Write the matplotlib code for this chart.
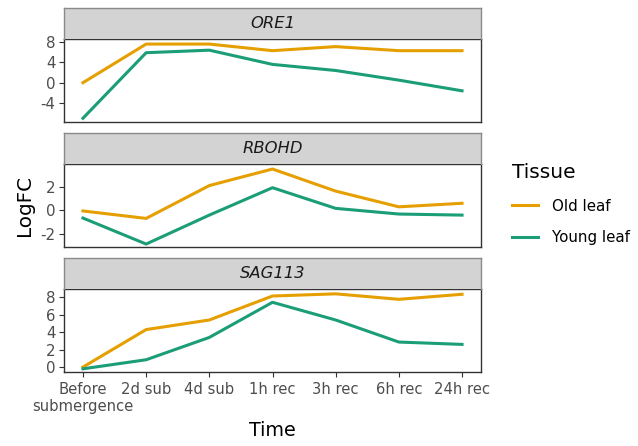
import matplotlib
matplotlib.use("Agg")
import matplotlib.pyplot as plt
from matplotlib.lines import Line2D

# Expression time course (log fold change) for three genes in old and young leaves
times = ["Before\nsubmergence", "2d sub", "4d sub", "1h rec", "3h rec", "6h rec", "24h rec"]
genes = ["ORE1", "RBOHD", "SAG113"]
tissues = ["Old leaf", "Young leaf"]

ore1_old = [0.0, 7.6, 7.6, 6.3, 7.1, 6.3, 6.3]
ore1_young = [-7.0, 5.9, 6.4, 3.6, 2.4, 0.5, -1.6]
rbohd_old = [-0.05, -0.68, 2.1, 3.5, 1.63, 0.3, 0.6]
rbohd_young = [-0.65, -2.85, -0.4, 1.92, 0.17, -0.31, -0.4]
sag113_old = [0.0, 4.3, 5.4, 8.15, 8.4, 7.77, 8.35]
sag113_young = [-0.2, 0.84, 3.4, 7.43, 5.4, 2.87, 2.6]

yticks = {"ORE1": [-4, 0, 4, 8], "RBOHD": [-2, 0, 2], "SAG113": [0, 2, 4, 6, 8]}
ylims = {"ORE1": (-7.74, 8.54), "RBOHD": (-3.1, 3.9), "SAG113": (-0.6, 8.92)}
series = {
    "ORE1": (ore1_old, ore1_young),
    "RBOHD": (rbohd_old, rbohd_young),
    "SAG113": (sag113_old, sag113_young),
}
colors = {"Old leaf": "#E69F00", "Young leaf": "#1B9E77"}

W, H = 638, 446
fig = plt.figure(figsize=(W / 100, H / 100), dpi=100)
plt.rcParams["font.family"] = ["DejaVu Sans"]

left_px, right_px = 64, 481
# (strip top, panel top, panel bottom) in pixels
rows = [(8, 39.3, 122), (133, 164.3, 247), (258, 289.3, 372.3)]

def frac_rect(x0, y0, x1, y1):
    return [x0 / W, 1 - y1 / H, (x1 - x0) / W, (y1 - y0) / H]

x = list(range(len(times)))
for i, (gene, (st, pt, pb)) in enumerate(zip(genes, rows)):
    ax = fig.add_axes(frac_rect(left_px, pt, right_px, pb))
    old, young = series[gene]
    ax.plot(x, old, color=colors["Old leaf"], lw=2.2, solid_joinstyle="round")
    ax.plot(x, young, color=colors["Young leaf"], lw=2.2, solid_joinstyle="round")
    ax.set_xlim(-0.3, 6.3)
    ax.set_ylim(*ylims[gene])
    ax.set_yticks(yticks[gene])
    ax.set_yticklabels([str(v) for v in yticks[gene]])
    for s in ax.spines.values():
        s.set_color("#333333")
        s.set_linewidth(1.0)
    ax.tick_params(axis="y", length=3.5, width=0.8, color="#333333",
                   labelcolor="#4D4D4D", labelsize=10.8, pad=2.5)
    if i == len(genes) - 1:
        ax.set_xticks(x)
        ax.set_xticklabels(times, linespacing=1.15)
        ax.tick_params(axis="x", length=3.5, width=0.8, color="#333333",
                       labelcolor="#4D4D4D", labelsize=10.6, pad=3.5)
    else:
        ax.set_xticks([])

    sax = fig.add_axes(frac_rect(left_px, st, right_px, pt))
    sax.set_facecolor("#D3D3D3")
    sax.set_xticks([])
    sax.set_yticks([])
    for s in sax.spines.values():
        s.set_color("#8A8A8A")
        s.set_linewidth(1.0)
    sax.spines["bottom"].set_visible(False)
    sax.text(0.5, 0.5, gene, transform=sax.transAxes, ha="center", va="center",
             fontsize=11.8, fontstyle="italic", color="#1A1A1A")

fig.text(25 / W, 1 - 206 / H, "LogFC", rotation=90, ha="center", va="center",
         fontsize=14.3, color="black")
fig.text(272.5 / W, 1 - 430 / H, "Time", ha="center", va="center",
         fontsize=13.8, color="black")

handles = [Line2D([], [], color=colors[t], lw=2.2) for t in tissues]
leg = fig.legend(handles, tissues, title="Tissue", loc="upper left",
                 bbox_to_anchor=(506 / W, 1 - 157 / H), frameon=False,
                 fontsize=10.8, title_fontsize=14.5, handlelength=1.75,
                 handletextpad=0.95, labelspacing=1.12, alignment="left",
                 borderaxespad=0.0)
leg._legend_box.sep = 12

fig.savefig("out.png", dpi=100, facecolor="white")
